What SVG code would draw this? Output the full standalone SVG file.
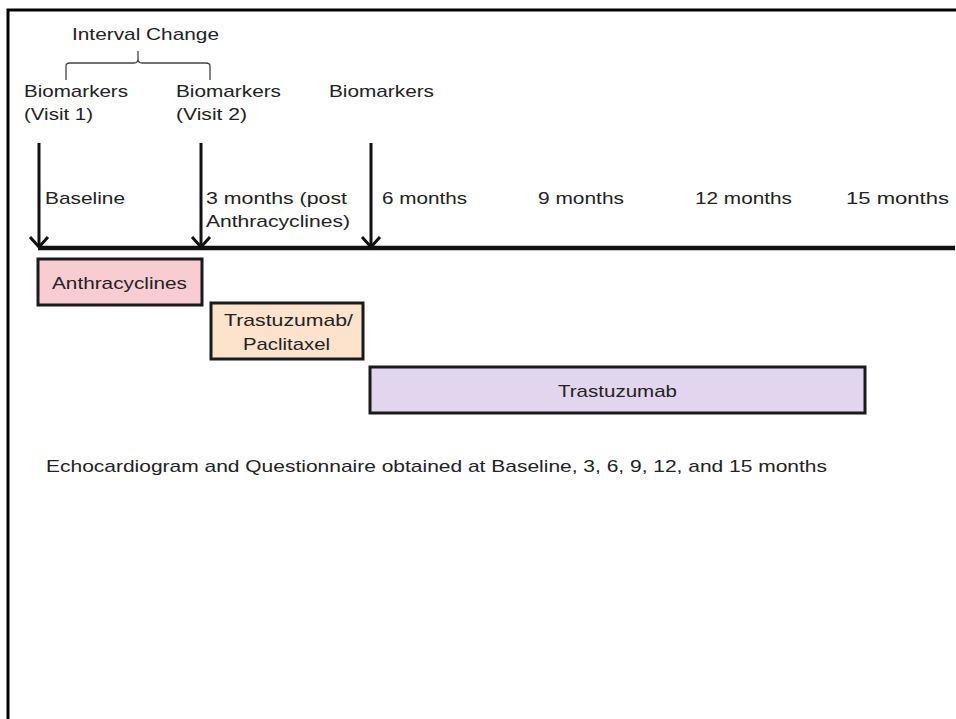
<svg xmlns="http://www.w3.org/2000/svg" width="956" height="719" viewBox="0 0 956 719">
<defs>
<marker id="ah" markerUnits="userSpaceOnUse" markerWidth="20" markerHeight="24" refX="14" refY="12" orient="auto" viewBox="0 0 20 24">
<path d="M4,3 L14,12 L4,21" fill="none" stroke="#111" stroke-width="3"/>
</marker>
<style>
text{font-family:"Liberation Sans",Arial,sans-serif;font-size:17px;fill:#222}
.box{stroke:#1a1a1a;stroke-width:3}
.arr{stroke:#111;stroke-width:3;fill:none}
</style>
</defs>
<rect x="0" y="0" width="956" height="719" fill="#fff"/>
<path d="M8,719 V10 H956" fill="none" stroke="#000" stroke-width="3"/>
<g id="labels">
<text x="72" y="40" textLength="147" lengthAdjust="spacingAndGlyphs">Interval Change</text>
<path d="M66,80 V66 Q66,63 70,63 H134 Q138,63 138,59 V51 M138,59 Q138,63 142,63 H206 Q210,63 210,66 V80" fill="none" stroke="#444" stroke-width="1.3"/>
<text x="24" y="97" textLength="104" lengthAdjust="spacingAndGlyphs">Biomarkers</text>
<text x="24" y="120" textLength="69" lengthAdjust="spacingAndGlyphs">(Visit 1)</text>
<text x="176" y="97" textLength="105" lengthAdjust="spacingAndGlyphs">Biomarkers</text>
<text x="176" y="120" textLength="71" lengthAdjust="spacingAndGlyphs">(Visit 2)</text>
<text x="329" y="97" textLength="105" lengthAdjust="spacingAndGlyphs">Biomarkers</text>
<text x="45" y="204" textLength="80" lengthAdjust="spacingAndGlyphs">Baseline</text>
<text x="206" y="204" textLength="141" lengthAdjust="spacingAndGlyphs">3 months (post</text>
<text x="206" y="227" textLength="144" lengthAdjust="spacingAndGlyphs">Anthracyclines)</text>
<text x="382" y="204" textLength="85" lengthAdjust="spacingAndGlyphs">6 months</text>
<text x="538" y="204" textLength="86" lengthAdjust="spacingAndGlyphs">9 months</text>
<text x="695" y="204" textLength="97" lengthAdjust="spacingAndGlyphs">12 months</text>
<text x="846" y="204" textLength="103" lengthAdjust="spacingAndGlyphs">15 months</text>
<text x="46" y="472" textLength="781" lengthAdjust="spacingAndGlyphs">Echocardiogram and Questionnaire obtained at Baseline, 3, 6, 9, 12, and 15 months</text>
</g>
<g id="connectors">
<line x1="38" y1="248" x2="955" y2="248" stroke="#111" stroke-width="4.5"/>
<line class="arr" x1="39" y1="143" x2="39" y2="247" marker-end="url(#ah)"/>
<line class="arr" x1="201" y1="143" x2="201" y2="247" marker-end="url(#ah)"/>
<line class="arr" x1="371" y1="143" x2="371" y2="247" marker-end="url(#ah)"/>
</g>
<g id="anthracyclines">
<rect class="box" x="38" y="259" width="164" height="46" fill="#f8cdd2"/>
<text x="52" y="289" textLength="135" lengthAdjust="spacingAndGlyphs">Anthracyclines</text>
</g>
<g id="trastuzumab-paclitaxel">
<rect class="box" x="211" y="303" width="152" height="56" fill="#fde3cc"/>
<text x="224" y="326" textLength="129" lengthAdjust="spacingAndGlyphs">Trastuzumab/</text>
<text x="243" y="350" textLength="87" lengthAdjust="spacingAndGlyphs">Paclitaxel</text>
</g>
<g id="trastuzumab">
<rect class="box" x="370" y="367" width="495" height="46" fill="#e2d6ee"/>
<text x="558" y="397" textLength="119" lengthAdjust="spacingAndGlyphs">Trastuzumab</text>
</g>
</svg>
